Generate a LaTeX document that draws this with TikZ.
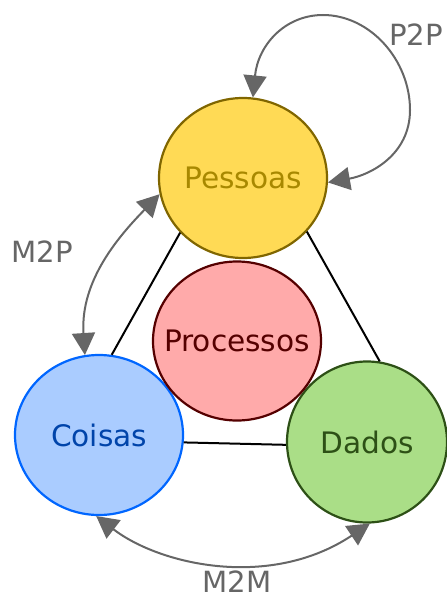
\documentclass[tikz,border=0pt]{standalone}
\usepackage{fontspec}
\setmainfont{DejaVu Sans}
\usetikzlibrary{shapes.geometric,arrows.meta}
\definecolor{pesfill}{HTML}{FFDA55}
\definecolor{pesdraw}{HTML}{806600}
\definecolor{pestext}{HTML}{A88800}
\definecolor{profill}{HTML}{FFAAAA}
\definecolor{prodraw}{HTML}{550000}
\definecolor{protext}{HTML}{550000}
\definecolor{coifill}{HTML}{AACCFF}
\definecolor{coidraw}{HTML}{0066FF}
\definecolor{coitext}{HTML}{0044AA}
\definecolor{dadfill}{HTML}{AADE87}
\definecolor{daddraw}{HTML}{2D5016}
\definecolor{dadtext}{HTML}{2D5016}
\definecolor{arrgray}{HTML}{666666}
\newcommand{\ctext}[1]{\makebox[0pt][c]{#1}}
\begin{document}
\begin{tikzpicture}[x=0.5pt,y=-0.5pt,
  blob/.style={ellipse,inner sep=0pt,line width=1.1pt,font=\fontsize{14.8pt}{16pt}\selectfont},
  link/.style={draw=black,line width=1pt},
  rel/.style={draw=arrgray,line width=1pt,{Triangle[length=11pt,width=11.5pt]}-{Triangle[length=11pt,width=11.5pt]}},
  rellabel/.style={text=arrgray,font=\fontsize{14.6pt}{16pt}\selectfont,inner sep=0pt}]
\useasboundingbox (0,0) rectangle (446,599);
\node[blob,fill=pesfill,draw=pesdraw,text=pestext,minimum width=84pt,minimum height=80pt] (pes) at (243,178) {\ctext{Pessoas}};
\node[blob,fill=coifill,draw=coidraw,text=coitext,minimum width=84pt,minimum height=80pt] (coi) at (99,435) {\ctext{Coisas}};
\node[blob,fill=dadfill,draw=daddraw,text=dadtext,minimum width=80pt,minimum height=80.5pt] (dad) at (367,442) {\ctext{Dados}};
\node[blob,fill=profill,draw=prodraw,text=protext,minimum width=84pt,minimum height=79.5pt] (pro) at (237,341) {\ctext{Processos}};
\draw[link] (pes.221) -- (coi.81);
\draw[link] (pes.320) -- (dad.81);
\draw[link] (coi.-5) -- (dad.182);
\draw[rel] (pes.83) .. controls (258,45) and (285,15) .. (323,15)
  .. controls (370,15) and (410,60) .. (410,110)
  .. controls (410,155) and (370,175) .. (pes.-3);
\draw[rel] (pes.191) .. controls (120,235) and (80,280) .. (coi.100);
\draw[rel] (coi.-92) .. controls (160,565) and (270,590) .. (dad.-88);
\node[rellabel] (p2p) at (416,35) {P2P};
\node[rellabel] (m2p) at (42,252) {M2P};
\node[rellabel] (m2m) at (237,582) {M2M};
\end{tikzpicture}
\end{document}
